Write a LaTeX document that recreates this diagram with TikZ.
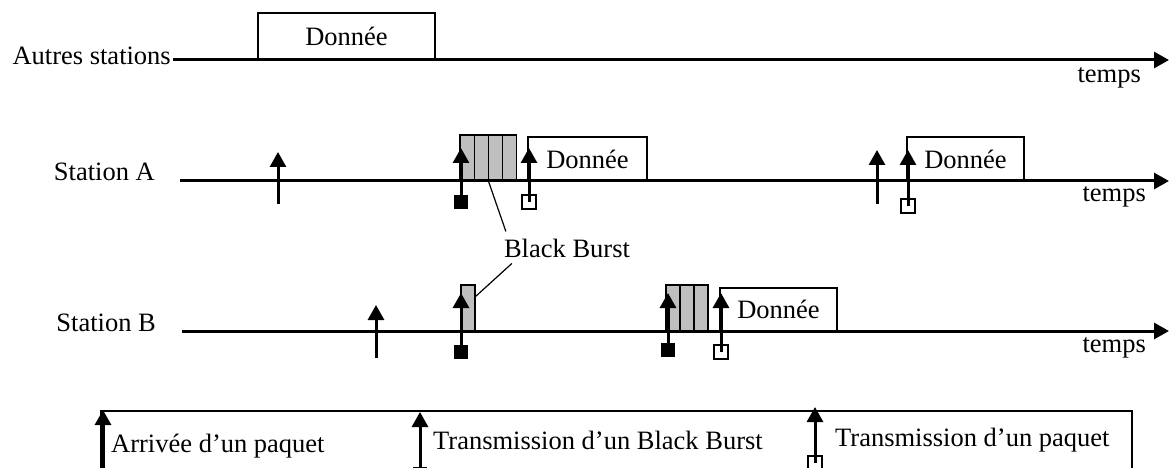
\documentclass[tikz,border=0pt]{standalone}
\usepackage{fontspec}
\setmainfont{Liberation Serif}
\usetikzlibrary{arrows.meta,positioning}
\newcommand{\txtsize}{\fontsize{26.5}{31}\selectfont}

\begin{document}
\begin{tikzpicture}[x=1pt, y=-1pt,
  lbl/.style={font=\txtsize, inner sep=0pt, anchor=base east},
  leg/.style={font=\txtsize, inner sep=0pt, anchor=base west},
  data/.style={font=\txtsize, draw, line width=1.2pt, minimum height=44pt,
               inner sep=0pt, outer sep=0pt, anchor=south west},
  burst/.style={draw, line width=1.2pt, fill=black!25, minimum width=14.2pt,
                minimum height=46pt, inner sep=0pt, outer sep=0pt,
                anchor=south west},
  axis/.style={line width=3pt, -{Triangle[length=15pt,width=16pt]}},
  evt/.style={line width=3pt, -{Triangle[length=15pt,width=16pt]}},
  bbsq/.style={fill=black, minimum size=14pt, inner sep=0pt},
  pksq/.style={draw, line width=1.2pt, minimum size=14pt, inner sep=0pt},
  lead/.style={line width=1.2pt}
]
\useasboundingbox (0,0) rectangle (1171,468);
\clip (0,0) rectangle (1171,468);
% Autres stations
\node[lbl] (autres) at (171,65) {Autres stations};
\node[data, minimum width=177pt, minimum height=47pt] (donT) at (258,60) {Donnée};
\coordinate (t0) at (173,60);
\coordinate (t1) at (1169,60);
\draw[axis] (t0) -- (t1);
\node[lbl] (tempsT) at (1141,83) {temps};
% Station A
\node[lbl] (staA) at (155,181) {Station A};
\node[burst] (cA1) at (460,181) {};
\node[burst, right=0pt of cA1] (cA2) {};
\node[burst, right=0pt of cA2] (cA3) {};
\node[burst, right=0pt of cA3] (cA4) {};
\node[data, minimum width=119pt] (donA1) at (528,181) {Donnée};
\node[data, minimum width=117pt] (donA2) at (907,181) {Donnée};
\coordinate (a0) at (180,181);
\coordinate (a1) at (1169,181);
\draw[axis] (a0) -- (a1);
\node[lbl] (tempsA) at (1146,202) {temps};
\coordinate (arA1) at (278,204);
\draw[evt] (arA1) -- ++(0,-52);
\node[bbsq] (sqA1) at (461,202) {};
\draw[evt] (sqA1.center) -- ++(0,-54);
\node[pksq] (pkA1) at (529,202) {};
\draw[evt] (pkA1.center) -- ++(0,-54);
\coordinate (arA2) at (877,204);
\draw[evt] (arA2) -- ++(0,-54);
\node[pksq] (pkA2) at (908,206) {};
\draw[evt] (pkA2.center) -- ++(0,-56);
% Black Burst
\node[font=\txtsize, inner sep=1pt, anchor=base] (bb) at (567,257) {Black Burst};
% Station B
\node[lbl] (staB) at (156,331) {Station B};
\node[burst, minimum width=14pt] (cB1) at (461,331) {};
\node[burst, minimum width=14pt] (cB2) at (666,331) {};
\node[burst, minimum width=14pt, right=0pt of cB2] (cB3) {};
\node[burst, minimum width=14pt, right=0pt of cB3] (cB4) {};
\node[data, minimum width=117pt, minimum height=43pt] (donB) at (720,331) {Donnée};
\coordinate (b0) at (182,331);
\coordinate (b1) at (1169,331);
\draw[axis] (b0) -- (b1);
\node[lbl] (tempsB) at (1146,352) {temps};
\coordinate (arB1) at (376,358);
\draw[evt] (arB1) -- ++(0,-53);
\node[bbsq] (sqB1) at (461,352) {};
\draw[evt] (sqB1.center) -- ++(0,-59);
\node[bbsq] (sqB2) at (668,350) {};
\draw[evt] (sqB2.center) -- ++(0,-57);
\node[pksq] (pkB1) at (721,352) {};
\draw[evt] (pkB1.center) -- ++(0,-59);
% Black Burst leaders
\draw[lead] (cA2.south east) -- ([xshift=3pt,yshift=6pt]bb.north west);
\draw[lead] ([xshift=9pt,yshift=-5pt]bb.south west) -- ([yshift=-12pt]cB1.north east);
% Legende
\node[draw, line width=1.2pt, minimum width=1031pt, minimum height=80pt,
      inner sep=0pt, outer sep=0pt, anchor=north west] (legend) at (101,411) {};
\coordinate (lg1) at (103,472);
\draw[evt] (lg1) -- ++(0,-62);
\node[leg] (txt1) at (111,452) {Arrivée d’un paquet};
\node[bbsq] (lgsq) at (420,474) {};
\draw[evt] (lgsq.center) -- ++(0,-62);
\node[leg] (txt2) at (433,449) {Transmission d’un Black Burst};
\node[pksq] (lgpk) at (815,463) {};
\draw[evt] (lgpk.center) -- ++(0,-56);
\node[leg] (txt3) at (835,446) {Transmission d’un paquet};
\end{tikzpicture}
\end{document}
